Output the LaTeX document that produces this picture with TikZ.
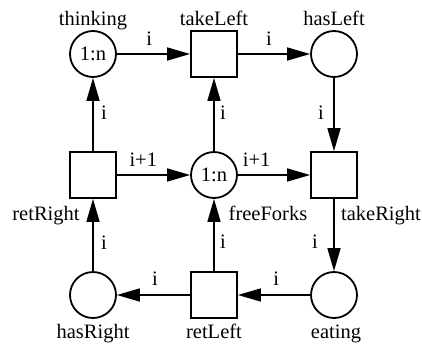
\documentclass[tikz,border=0pt]{standalone}
\usepackage{fontspec}
\setmainfont{Liberation Serif}
\usetikzlibrary{arrows.meta}
\begin{document}
\begin{tikzpicture}[x=1pt,y=-1pt,
  font=\fontsize{20.5}{24}\selectfont,
  pplace/.style={circle,draw,line width=1.8pt,minimum size=46pt,inner sep=0pt},
  ptrans/.style={rectangle,draw,line width=1.8pt,minimum size=46pt,inner sep=0pt},
  parc/.style={line width=1.6pt,-{Triangle[length=23pt,width=13pt]}},
  plab/.style={anchor=base,inner sep=0pt},
  pname/.style={anchor=base,inner sep=0pt}]
\useasboundingbox (0,0) rectangle (422,343);
% places
\node[pplace] (thinking) at (93,54) {1:n};
\node[pplace] (hasLeft) at (334,54) {};
\node[pplace] (freeForks) at (214,175) {1:n};
\node[pplace] (hasRight) at (93,295) {};
\node[pplace] (eating) at (334,295) {};
% transitions
\node[ptrans] (takeLeft) at (214,54) {};
\node[ptrans] (retRight) at (93,175) {};
\node[ptrans] (takeRight) at (334,175) {};
\node[ptrans] (retLeft) at (214,295) {};
% names
\node[pname] (nthinking) at (93,25) {thinking};
\node[pname] (ntakeLeft) at (214,25) {takeLeft};
\node[pname] (nhasLeft) at (334,25) {hasLeft};
\node[pname] (nretRight) at (46,220) {retRight};
\node[pname] (nfreeForks) at (268,220) {freeForks};
\node[pname] (ntakeRight) at (381,220) {takeRight};
\node[pname] (nhasRight) at (93,338) {hasRight};
\node[pname] (nretLeft) at (214,338) {retLeft};
\node[pname] (neating) at (336,338) {eating};
% arcs
\draw[parc] (retRight) -- node[plab,pos=.43,xshift=11pt] {i} (thinking);
\draw[parc] (thinking) -- node[plab,pos=.44,yshift=9pt] {i} (takeLeft);
\draw[parc] (takeLeft) -- node[plab,pos=.43,yshift=9pt] {i} (hasLeft);
\draw[parc] (freeForks) -- node[plab,pos=.43,xshift=9pt] {i} (takeLeft);
\draw[parc] (hasLeft) -- node[plab,pos=.57,xshift=-13pt] {i} (takeRight);
\draw[parc] (retRight) -- node[plab,pos=.36,yshift=9pt] {i+1} (freeForks);
\draw[parc] (freeForks) -- node[plab,pos=.26,yshift=9pt] {i+1} (takeRight);
\draw[parc] (hasRight) -- node[plab,pos=.3,xshift=11pt] {i} (retRight);
\draw[parc] (retLeft) -- node[plab,pos=.31,xshift=9pt] {i} (freeForks);
\draw[parc] (takeRight) -- node[plab,pos=.69,xshift=-19pt] {i} (eating);
\draw[parc] (eating) -- node[plab,pos=.47,yshift=10pt] {i} (retLeft);
\draw[parc] (retLeft) -- node[plab,pos=.48,yshift=10pt] {i} (hasRight);
\end{tikzpicture}
\end{document}
